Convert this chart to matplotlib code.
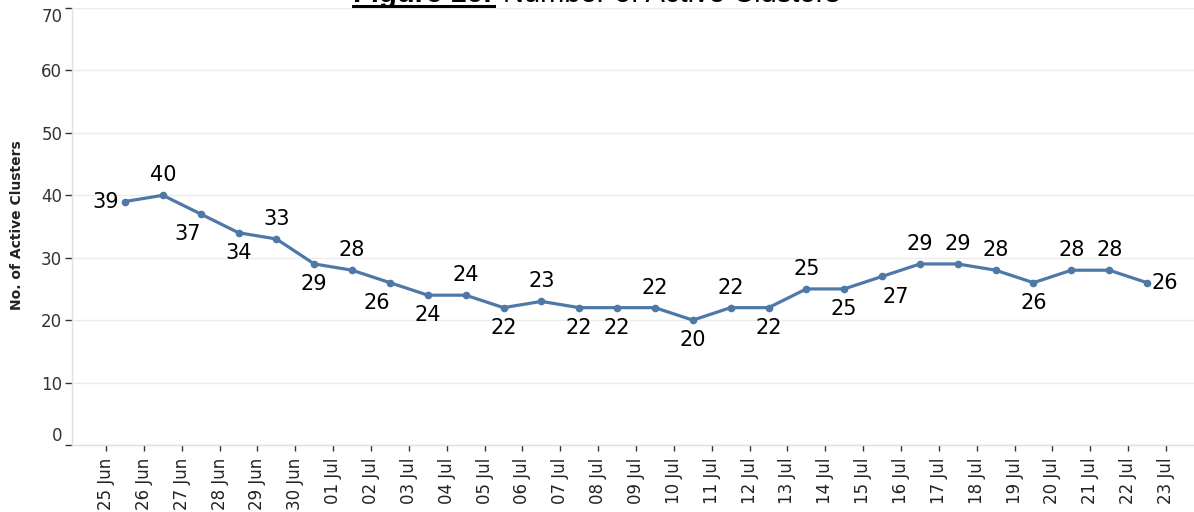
import matplotlib
matplotlib.use("Agg")
import matplotlib.pyplot as plt
import numpy as np
from matplotlib.lines import Line2D

# ---- data ----
tick_labels = ["25 Jun", "26 Jun", "27 Jun", "28 Jun", "29 Jun", "30 Jun",
               "01 Jul", "02 Jul", "03 Jul", "04 Jul", "05 Jul", "06 Jul",
               "07 Jul", "08 Jul", "09 Jul", "10 Jul", "11 Jul", "12 Jul",
               "13 Jul", "14 Jul", "15 Jul", "16 Jul", "17 Jul", "18 Jul",
               "19 Jul", "20 Jul", "21 Jul", "22 Jul", "23 Jul"]
active_clusters = [39, 40, 37, 34, 33, 29, 28, 26, 24, 24, 22, 23, 22, 22,
                   22, 20, 22, 22, 25, 25, 27, 29, 29, 28, 26, 28, 28, 26]
label_side = ["left", "above", "below_l", "below", "above", "below", "above",
              "below_l", "below", "above", "below", "above", "below", "below",
              "above", "below", "above", "below", "above", "below", "below_r",
              "above", "above", "above", "below", "above", "above", "right"]
y_ticks = [0, 10, 20, 30, 40, 50, 60, 70]

W, H = 1194, 512
fig = plt.figure(figsize=(W / 100, H / 100), dpi=100)
left_px, bottom_px, top_px = 72, 445, 8
ax = fig.add_axes([left_px / W, 1 - bottom_px / H, 1 - left_px / W, (bottom_px - top_px) / H])

color = "#4E79A7"
x = np.arange(len(active_clusters)) + 0.5
ax.plot(x, active_clusters, color=color, lw=2.3, marker="o", ms=4.5,
        solid_capstyle="round", zorder=3)

offs = {"above": (0, 14.5), "below": (0, -14.5), "below_l": (-9.5, -14.5),
        "below_r": (9.5, -14.5), "left": (-14, 0), "right": (12.5, 0)}
for xi, v, side in zip(x, active_clusters, label_side):
    ax.annotate(str(v), (xi, v), xytext=offs[side], textcoords="offset points",
                ha="center", va="center", fontsize=15, color="black")

ax.set_ylim(0, 70)
ax.set_xlim(-0.9, 28.74)
ax.set_yticks(y_ticks)
ax.set_yticklabels([str(t) for t in y_ticks])
ax.set_xticks(np.arange(len(tick_labels)))
ax.set_xticklabels(tick_labels, rotation=90)

ax.grid(axis="y", color="#ececec", lw=1)
ax.set_axisbelow(True)
for s in ["top", "right"]:
    ax.spines[s].set_visible(False)
for s in ["left", "bottom"]:
    ax.spines[s].set_color("#e0e0e0")
    ax.spines[s].set_linewidth(1)

ax.tick_params(axis="y", length=5, width=1, color="#333333", labelsize=12,
               labelcolor="#333333", pad=2)
ax.tick_params(axis="x", length=4, width=1, color="#333333", labelsize=12,
               labelcolor="#222222", pad=5)
ylabs = ax.get_yticklabels()
ylabs[0].set_va("bottom")
ylabs[-1].set_va("top")

fig.text(17 / W, 1 - 225 / H, "No. of Active Clusters", rotation=90,
         ha="center", va="center", fontsize=10, fontweight="bold", color="#222222")

# title, partly cut off at top (as in the reference)
ty = 1 - 2.5 / H
fig.text(353 / W, ty, "Figure 16:", fontsize=21, fontweight="bold",
         family="Liberation Sans", ha="left", va="baseline")
fig.text(503 / W, ty, "Number of Active Clusters", fontsize=21,
         family="Liberation Sans", ha="left", va="baseline")
fig.add_artist(Line2D([353 / W, 494 / W], [1 - 5.5 / H, 1 - 5.5 / H],
                      transform=fig.transFigure, color="black", lw=2.2))

fig.savefig("out.png", dpi=100)
